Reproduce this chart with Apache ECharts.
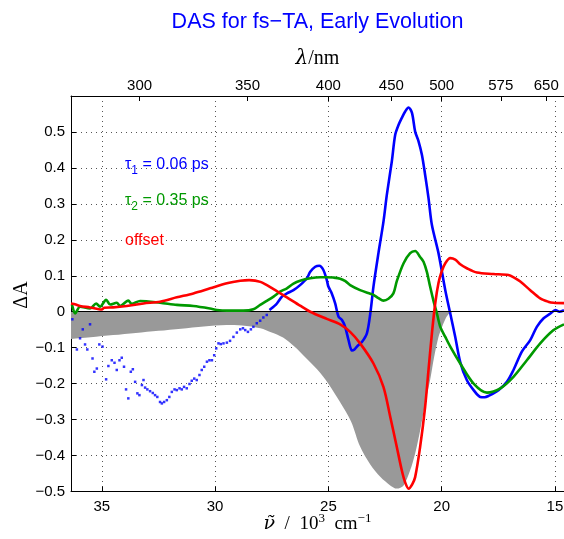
<!DOCTYPE html>
<html><head><meta charset="utf-8">
<script src="https://cdn.jsdelivr.net/npm/echarts@6/dist/echarts.min.js"></script>
<style>html,body{margin:0;padding:0;background:#fff}#c{width:564px;height:539px}</style>
</head><body><div id="c"></div>
<script>
// ---- data (wavenumber in 10^3 cm^-1, ΔA) ----
const nuMin = 14.6, nuMax = 36.36;
const bottomTicks = [15, 20, 25, 30, 35];
const lambdaTicks = [300, 350, 400, 450, 500, 575, 650];
const yTicksMin = -0.5, yTicksMax = 0.6, yStep = 0.1;

const grayNu  = [36.36,35.5,34.5,33.5,32.5,31.5,30.5,29.5,28.8,28.0,27.5,27.0,26.5,26.0,25.5,25.0,24.5,24.0,23.6,23.15,22.7,22.27,21.98,21.68,21.39,21.17,20.95,20.73,20.51,20.33,20.14,20.0,19.85,19.7,19.5];
const grayVal = [-0.076,-0.071,-0.065,-0.059,-0.053,-0.047,-0.041,-0.037,-0.038,-0.046,-0.058,-0.072,-0.097,-0.128,-0.16,-0.20,-0.25,-0.305,-0.375,-0.425,-0.46,-0.483,-0.492,-0.483,-0.441,-0.394,-0.33,-0.255,-0.19,-0.125,-0.07,-0.045,-0.022,-0.007,0];

const tau1DotsNu  = [36.30,36.10,35.96,35.84,35.74,35.64,35.52,35.41,35.33,35.22,35.11,34.97,34.81,34.71,34.56,34.44,34.34,34.22,34.12,34.02,33.93,33.83,33.72,33.63,33.53,33.43,33.34,33.23,33.16,33.09,32.99,32.87,32.75,32.65,32.55,32.43,32.35,32.25,32.13,32.02,31.91,31.79,31.69,31.57,31.47,31.37,31.25,31.13,31.03,30.92,30.81,30.69,30.59,30.48,30.36,30.25,30.14,30.04,29.95,29.85,29.75,29.63,29.48,29.34,29.19,29.04,28.89,28.77,28.67,28.55,28.42,28.31,28.16,28.01,27.87,27.72];
const tau1DotsVal = [-0.021,-0.105,-0.074,-0.049,-0.091,-0.105,-0.035,-0.130,-0.167,-0.158,-0.091,-0.097,-0.188,-0.151,-0.135,-0.142,-0.162,-0.135,-0.128,-0.153,-0.216,-0.241,-0.167,-0.160,-0.195,-0.227,-0.232,-0.204,-0.190,-0.211,-0.216,-0.221,-0.226,-0.232,-0.237,-0.251,-0.255,-0.251,-0.246,-0.237,-0.223,-0.216,-0.218,-0.213,-0.216,-0.209,-0.213,-0.201,-0.192,-0.186,-0.190,-0.176,-0.162,-0.153,-0.139,-0.135,-0.135,-0.121,-0.102,-0.088,-0.090,-0.088,-0.086,-0.081,-0.070,-0.058,-0.049,-0.046,-0.051,-0.056,-0.049,-0.042,-0.032,-0.025,-0.016,-0.009];

const tau1Nu  = [27.6,27.42,27.27,27.05,26.83,26.54,26.25,25.95,25.8,25.58,25.4,25.22,25.07,25.0,24.85,24.7,24.55,24.4,24.26,24.11,23.96,23.85,23.74,23.52,23.3,23.15,23.01,22.79,22.57,22.42,22.2,22.05,21.9,21.76,21.61,21.46,21.31,21.17,21.02,20.87,20.73,20.58,20.43,20.14,19.84,19.62,19.40,19.18,18.89,18.59,18.3,18.1,17.93,17.49,17.12,16.83,16.46,16.09,15.8,15.5,15.2,14.98,14.8,14.6];
const tau1Val = [0.005,0.014,0.023,0.042,0.051,0.060,0.074,0.093,0.111,0.125,0.128,0.116,0.088,0.070,0.051,0.023,-0.014,-0.023,-0.042,-0.079,-0.108,-0.105,-0.097,-0.084,-0.060,-0.005,0.070,0.163,0.250,0.325,0.418,0.492,0.520,0.539,0.557,0.568,0.553,0.501,0.474,0.436,0.381,0.316,0.241,0.163,0.060,-0.005,-0.070,-0.140,-0.190,-0.218,-0.237,-0.238,-0.234,-0.218,-0.195,-0.162,-0.111,-0.079,-0.042,-0.018,-0.005,0.005,0.0,0.004];

const tau2Nu  = [36.36,36.32,36.18,35.96,35.52,35.25,35.08,34.81,34.63,34.34,34.19,33.83,33.68,33.31,32.43,31.69,30.96,30.22,29.92,29.48,28.75,28.31,28.01,27.72,27.42,27.13,26.83,26.54,26.25,25.8,25.36,25.07,24.78,24.48,24.25,24.04,23.6,23.15,23.01,22.79,22.57,22.35,22.13,21.98,21.68,21.39,21.17,20.95,20.8,20.65,20.51,20.36,20.21,20.06,19.84,19.62,19.18,18.59,18.0,17.41,16.83,16.24,15.65,15.06,14.6];
const tau2Val = [0.02,0.019,-0.005,0.014,0.009,0.023,0.014,0.033,0.020,0.025,0.016,0.031,0.022,0.030,0.025,0.019,0.016,0.009,0.005,0.003,0.003,0.007,0.019,0.030,0.042,0.056,0.065,0.078,0.086,0.093,0.096,0.096,0.095,0.092,0.085,0.074,0.060,0.050,0.047,0.038,0.031,0.036,0.051,0.085,0.135,0.163,0.169,0.152,0.139,0.110,0.070,0.030,-0.005,-0.042,-0.070,-0.097,-0.144,-0.200,-0.225,-0.213,-0.181,-0.135,-0.088,-0.051,-0.035];

const offsetNu  = [36.36,36.15,35.96,35.52,35.0,34.9,34.5,33.9,33.16,32.43,31.69,30.96,30.22,29.48,28.89,28.5,28.0,27.42,26.83,26.25,25.8,25.07,24.48,24.04,23.6,23.01,22.57,22.27,21.98,21.76,21.61,21.46,21.3,21.17,20.95,20.73,20.58,20.43,20.28,20.14,20.0,19.84,19.62,19.4,19.18,18.89,18.44,17.71,17.05,16.8,16.53,16.09,15.65,15.3,15.06,14.6];
const offsetVal = [0.023,0.020,0.016,0.012,0.006,0.011,0.012,0.016,0.023,0.028,0.040,0.051,0.065,0.079,0.086,0.088,0.083,0.063,0.040,0.017,0.0,-0.020,-0.035,-0.056,-0.088,-0.144,-0.209,-0.292,-0.376,-0.441,-0.475,-0.492,-0.480,-0.460,-0.376,-0.265,-0.162,-0.060,0.025,0.080,0.112,0.135,0.149,0.145,0.132,0.121,0.109,0.105,0.102,0.095,0.084,0.060,0.037,0.028,0.025,0.024];

const zip = (a, b) => a.map((v, i) => [v, b[i]]);

const tickFont = 'Liberation Sans';
const tickSize = 15;
const chart = echarts.init(document.getElementById('c'), null, {renderer: 'canvas'});
const gridCfg = {left: 71, right: 0, top: 96, bottom: 47.5, containLabel: false, outerBoundsMode: 'none'};

const lambdaPos = lambdaTicks.map(l => 1e4 / l);
const plotCenterX = gridCfg.left + (564 - gridCfg.left - gridCfg.right) / 2;

const option = {
  animation: false,
  backgroundColor: '#ffffff',
  grid: gridCfg,
  xAxis: [{
    type: 'value', min: nuMin, max: nuMax, inverse: true, position: 'bottom',
    axisLine: {show: true, onZero: false, lineStyle: {color: '#000', width: 1}},
    axisTick: {show: true, inside: true, length: 5, customValues: bottomTicks, lineStyle: {color: '#000'}},
    axisLabel: {customValues: bottomTicks, margin: 8, color: '#000', fontFamily: tickFont, fontSize: tickSize,
      hideOverlap: false, formatter: v => String(Math.round(v))},
    splitLine: {show: true, lineStyle: {color: '#555', width: 1, type: [1, 4]}}
  }, {
    type: 'value', min: nuMin, max: nuMax, inverse: true, position: 'top',
    axisLine: {show: true, onZero: false, lineStyle: {color: '#000', width: 1}},
    axisTick: {show: true, inside: true, length: 5, customValues: lambdaPos, lineStyle: {color: '#000'}},
    axisLabel: {customValues: lambdaPos, margin: 3, color: '#000', fontFamily: tickFont, fontSize: tickSize,
      hideOverlap: false, formatter: v => String(Math.round(1e4 / v))},
    splitLine: {show: false}
  }],
  yAxis: [{
    type: 'value', min: yTicksMin, max: yTicksMax, interval: yStep,
    axisLine: {show: true, onZero: false, lineStyle: {color: '#000', width: 1}},
    axisTick: {show: true, inside: true, length: 5, lineStyle: {color: '#000'}},
    axisLabel: {showMaxLabel: false, margin: 6, color: '#000', fontFamily: tickFont, fontSize: tickSize,
      formatter: v => {
        const r = Math.round(v * 10) / 10;
        if (Math.abs(r) < 1e-9) return '0';
        return r.toFixed(1).replace('-', '\u2212');
      }},
    splitLine: {show: true, lineStyle: {color: '#555', width: 1, type: [1, 4]}}
  }],
  series: [{
    type: 'line', name: 'abs', data: zip(grayNu, grayVal), xAxisIndex: 0, symbol: 'none', smooth: 0.3,
    lineStyle: {width: 0}, areaStyle: {color: '#999999', opacity: 1}, itemStyle: {color: '#999999'}, z: 1,
    markLine: {silent: true, symbol: 'none', label: {show: false},
      lineStyle: {color: '#000', width: 1, type: 'solid'}, data: [{yAxis: 0}]}
  }, {
    type: 'scatter', name: 'tau1dots', data: zip(tau1DotsNu, tau1DotsVal), symbol: 'rect', symbolSize: 2.5,
    itemStyle: {color: '#0000ff'}, z: 3
  }, {
    type: 'line', name: 'tau1', data: zip(tau1Nu, tau1Val), symbol: 'none', smooth: 0.3,
    lineStyle: {color: '#0000ff', width: 2.6}, z: 4
  }, {
    type: 'line', name: 'tau2', data: zip(tau2Nu, tau2Val), symbol: 'none', smooth: 0.3,
    lineStyle: {color: '#009900', width: 2.6}, z: 5
  }, {
    type: 'line', name: 'offset', data: zip(offsetNu, offsetVal), symbol: 'none', smooth: 0.3,
    lineStyle: {color: '#ff0000', width: 2.6}, z: 6
  }],
  graphic: [{
    type: 'text', x: plotCenterX, y: 22, z: 10,
    style: {text: 'DAS for fs\u2212TA, Early Evolution', fill: '#0000ff', font: '21.5px "Liberation Sans"',
      textAlign: 'center', textVerticalAlign: 'middle'}
  }, {
    type: 'text', x: plotCenterX, y: 59, z: 10,
    style: {text: '{i|λ}{r|/nm}', textAlign: 'center', textVerticalAlign: 'middle',
      rich: {i: {font: 'italic 20px "DejaVu Serif"', fill: '#000'}, r: {font: '20px "Liberation Serif"', fill: '#000'}}}
  }, {
    type: 'text', x: plotCenterX, y: 523, z: 10,
    style: {text: '{i|ν\u0303}{r|\u2002/\u200210}{s|3}{r|\u2002cm}{s|\u22121}', textAlign: 'center', textVerticalAlign: 'middle',
      rich: {i: {font: 'italic 19px "DejaVu Serif"', fill: '#000', verticalAlign: 'bottom', lineHeight: 22},
             r: {font: '19px "Liberation Serif"', fill: '#000', verticalAlign: 'bottom', lineHeight: 22},
             s: {font: '13px "Liberation Serif"', fill: '#000', verticalAlign: 'top', lineHeight: 22}}}
  }, {
    type: 'text', x: 22, y: 295, rotation: Math.PI / 2, z: 10,
    style: {text: 'ΔA', fill: '#000', font: '20px "Liberation Serif"', textAlign: 'center', textVerticalAlign: 'middle'}
  }, {
    type: 'text', x: 125, y: 167, z: 10,
    style: {text: '{a|τ}{s|1}{a| = 0.06 ps}', textVerticalAlign: 'middle',
      rich: {a: {font: '16px "Liberation Sans"', fill: '#0000ff', verticalAlign: 'top', lineHeight: 20},
             s: {font: '12px "Liberation Sans"', fill: '#0000ff', verticalAlign: 'bottom', lineHeight: 20}}}
  }, {
    type: 'text', x: 125, y: 203, z: 10,
    style: {text: '{a|τ}{s|2}{a| = 0.35 ps}', textVerticalAlign: 'middle',
      rich: {a: {font: '16px "Liberation Sans"', fill: '#009900', verticalAlign: 'top', lineHeight: 20},
             s: {font: '12px "Liberation Sans"', fill: '#009900', verticalAlign: 'bottom', lineHeight: 20}}}
  }, {
    type: 'text', x: 125, y: 241, z: 10,
    style: {text: 'offset', fill: '#ff0000', font: '16px "Liberation Sans"', textVerticalAlign: 'middle'}
  }]
};
chart.setOption(option);
</script>
</body></html>
